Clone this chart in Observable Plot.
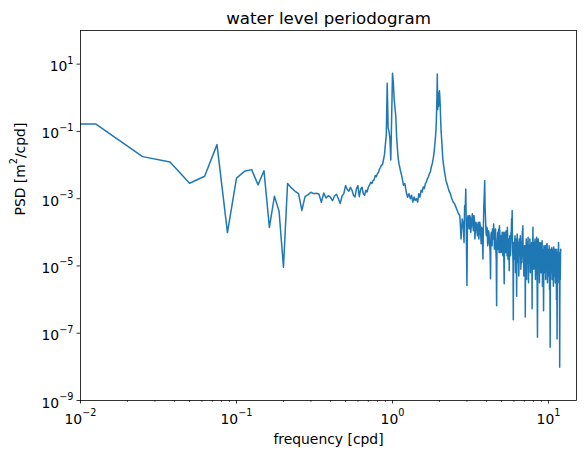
<!DOCTYPE html>
<html>
<head>
<meta charset="utf-8">
<script src="https://cdn.jsdelivr.net/npm/d3@7"></script>
<script src="https://cdn.jsdelivr.net/npm/@observablehq/plot@0.6"></script>
<style>
  html, body { margin: 0; padding: 0; background: white; }
</style>
</head>
<body>
<div id="chart"></div>
<script>
// ---- text ----
const titleText = "water level periodogram";
const xLabelText = "frequency [cpd]";
const yLabelText = "PSD [m^2/cpd]";

// ---- tick values ----
const xMajorTicks = [0.01, 0.1, 1, 10];
const xMinorTicks = [0.02,0.03,0.04,0.05,0.06,0.07,0.08,0.09,
                     0.2,0.3,0.4,0.5,0.6,0.7,0.8,0.9,
                     2,3,4,5,6,7,8,9];
const yMajorTicks = [1e-9, 1e-7, 1e-5, 1e-3, 1e-1, 1e1];

// ---- data: low frequencies (first row stands for the f = 0 bin, clipped off the log axis) ----
const freqLow = [
  0.005, 0.0125, 0.025, 0.0375, 0.05, 0.0625, 0.075, 0.0875, 0.1, 0.1125,
  0.125, 0.1375, 0.15, 0.1625, 0.175, 0.1875, 0.2, 0.2125, 0.225, 0.2375,
  0.25, 0.2625, 0.275, 0.2875, 0.3, 0.3125, 0.325, 0.3375, 0.35, 0.3625,
  0.375, 0.3875, 0.4, 0.4125, 0.425, 0.4375, 0.45, 0.4625, 0.475, 0.4875,
  0.5, 0.5125, 0.525, 0.5375, 0.55, 0.5625, 0.575, 0.5875, 0.6, 0.6125,
  0.625, 0.6375, 0.65, 0.6625, 0.675, 0.6875, 0.7, 0.7125, 0.725, 0.7375,
  0.75, 0.7625, 0.775, 0.7875, 0.8, 0.8125, 0.825, 0.8375, 0.85, 0.8625,
  0.875, 0.8875, 0.9, 0.9125, 0.925, 0.9375, 0.95, 0.9625, 0.975, 0.9875,
  1.0, 1.0125, 1.025, 1.0375, 1.05, 1.0625, 1.075, 1.0875
];
const psdLow = [
  0.167, 0.167, 0.0178, 0.0124, 0.00288, 0.00465, 0.0405, 9.8e-5, 0.0041, 0.0065,
  0.0073, 0.00257, 0.0068, 1.4e-4, 0.00118, 4.2e-4, 9.2e-6, 2.82e-3, 2.09e-3, 1.66e-3,
  1.41e-3, 4.47e-4, 1.15e-3, 1.32e-3, 1.55e-3, 1.41e-3, 1.45e-3, 1.38e-3, 7.76e-4, 1.48e-3,
  1.05e-3, 1.23e-3, 1.12e-3, 8.71e-4, 1.2e-3, 1.35e-3, 1e-3, 7.24e-4, 1.2e-3, 1.41e-3,
  2.45e-3, 1.91e-3, 1.66e-3, 2.19e-3, 1.78e-3, 1.26e-3, 1.12e-3, 2e-3, 2.45e-3, 1.15e-3,
  1.91e-3, 2.19e-3, 1.41e-3, 1.26e-3, 1.78e-3, 1.58e-3, 2.19e-3, 2.51e-3, 3.09e-3, 2.82e-3,
  3.47e-3, 3.63e-3, 4.9e-3, 4.47e-3, 5.5e-3, 6.03e-3, 7.59e-3, 8.51e-3, 1e-2, 1.02e-2,
  1.41e-2, 2e-2, 3.98e-2, 7.94e-2, 2.69, 0.126, 0.1, 6.31e-2, 1.41e-2, 0.251,
  5.37, 2.82, 0.891, 0.501, 0.282, 7.08e-2, 3.16e-2, 1.58e-2
];

// ---- data: between the diurnal and semidiurnal bands ----
const freqMid = [
  1.1, 1.125, 1.15, 1.175, 1.2, 1.225, 1.25, 1.275, 1.3, 1.325,
  1.35, 1.375, 1.4, 1.425, 1.45, 1.475, 1.5, 1.525, 1.55, 1.575,
  1.6, 1.625, 1.65, 1.675, 1.7, 1.725, 1.75, 1.775, 1.8, 1.825,
  1.85, 1.8625, 1.875, 1.8875, 1.9, 1.9125, 1.925, 1.9375, 1.95, 1.9625,
  1.975, 1.9875, 2.0, 2.0125, 2.025, 2.0375, 2.05, 2.075, 2.1, 2.125,
  2.15, 2.175, 2.2, 2.25, 2.3, 2.35, 2.4, 2.45, 2.5, 2.55,
  2.6, 2.65
];
const psdMid = [
  1.12e-2, 6.76e-3, 4.47e-3, 2.51e-3, 2.82e-3, 1.58e-3, 1.1e-3, 1.41e-3, 1e-3, 1.26e-3,
  7.94e-4, 1.12e-3, 8.91e-4, 1e-3, 7.94e-4, 1.41e-3, 1.12e-3, 1.78e-3, 1.58e-3, 2.24e-3,
  2e-3, 2.82e-3, 3.16e-3, 3.98e-3, 4.47e-3, 5.62e-3, 6.31e-3, 8.91e-3, 1.12e-2, 1.58e-2,
  2.51e-2, 3.55e-2, 5.01e-2, 7.08e-2, 0.112, 0.251, 0.794, 5.13, 0.447, 1.41,
  0.562, 1.12, 1.62, 1.0, 0.501, 0.2, 0.1, 4.27e-2, 1.58e-2, 1e-2,
  6.76e-3, 5.01e-3, 3.55e-3, 2.51e-3, 1.74e-3, 1.41e-3, 1e-3, 7.94e-4, 7.08e-4, 5.62e-4,
  4.47e-4, 3.55e-4
];

// ---- data: high frequencies ----
const freqHigh = [
  2.70, 2.75, 2.80, 2.85, 2.90, 2.95, 3.00, 3.05, 3.10, 3.15,
  3.20, 3.25, 3.30, 3.35, 3.40, 3.45, 3.50, 3.55, 3.60, 3.65,
  3.70, 3.75, 3.80, 3.85, 3.90, 3.95, 4.00, 4.05, 4.10, 4.15,
  4.20, 4.25, 4.30, 4.35, 4.40, 4.45, 4.50, 4.55, 4.60, 4.65,
  4.70, 4.75, 4.80, 4.85, 4.90, 4.95, 5.00, 5.05, 5.10, 5.15,
  5.20, 5.25, 5.30, 5.35, 5.40, 5.45, 5.50, 5.55, 5.60, 5.65,
  5.70, 5.75, 5.80, 5.85, 5.90, 5.95, 6.00, 6.05, 6.10, 6.15,
  6.20, 6.25, 6.30, 6.35, 6.40, 6.45, 6.50, 6.55, 6.60, 6.65,
  6.70, 6.75, 6.80, 6.85, 6.90, 6.95, 7.00, 7.05, 7.10, 7.15,
  7.20, 7.25, 7.30, 7.35, 7.40, 7.45, 7.50, 7.55, 7.60, 7.65,
  7.70, 7.75, 7.80, 7.85, 7.90, 7.95, 8.00, 8.05, 8.10, 8.15,
  8.20, 8.25, 8.30, 8.35, 8.40, 8.45, 8.50, 8.55, 8.60, 8.65,
  8.70, 8.75, 8.80, 8.85, 8.90, 8.95, 9.00, 9.05, 9.10, 9.15,
  9.20, 9.25, 9.30, 9.35, 9.40, 9.45, 9.50, 9.55, 9.60, 9.65,
  9.70, 9.75, 9.80, 9.85, 9.90, 9.95, 10.00, 10.05, 10.10, 10.15,
  10.20, 10.25, 10.30, 10.35, 10.40, 10.45, 10.50, 10.55, 10.60, 10.65,
  10.70, 10.75, 10.80, 10.85, 10.90, 10.95, 11.00, 11.05, 11.10, 11.15,
  11.20, 11.25, 11.30, 11.35, 11.40, 11.45, 11.50, 11.55, 11.60, 11.65,
  11.70, 11.75, 11.80, 11.85, 11.90, 11.95, 12.00
];
const psdHigh = [
  3.16e-4, 6.31e-5, 2.51e-4, 1.26e-4, 6.31e-4, 1.95e-3, 2.63e-6, 3.16e-4, 1.26e-4, 2.82e-4,
  1.58e-4, 3.55e-4, 1.12e-4, 2.51e-4, 1.26e-4, 1.78e-4, 7.94e-5, 2e-4, 1e-4, 1.58e-4,
  4.57e-5, 1.26e-4, 1.62e-5, 6.31e-4, 3.47e-3, 2.51e-4, 7.94e-5, 1.26e-4, 5.01e-5, 1e-4,
  3.98e-5, 4.17e-6, 1e-4, 3.98e-5, 1.26e-4, 1.78e-4, 3.16e-5, 1e-4, 2.88e-5, 6.61e-7,
  6.31e-5, 3.16e-5, 1.26e-4, 1.58e-4, 2.51e-5, 7.94e-5, 3.98e-5, 1e-4, 2e-5, 6.31e-5,
  2.95e-6, 1e-4, 2.51e-5, 1.12e-4, 3.16e-5, 1.41e-4, 1.58e-5, 6.31e-5, 7.24e-6, 7.94e-5,
  2e-5, 1e-4, 2.51e-4, 4.47e-4, 2.51e-5, 2.51e-7, 5.01e-5, 1.58e-5, 7.94e-5, 6.31e-6,
  6.31e-5, 1.26e-6, 8.91e-5, 1.26e-5, 5.01e-5, 5.01e-6, 6.31e-5, 2e-5, 7.94e-5, 7.94e-6,
  5.01e-5, 1.26e-5, 1.12e-4, 1.58e-4, 2.51e-5, 5.01e-6, 3.98e-5, 1.26e-5, 3.02e-7, 3.16e-5,
  6.31e-5, 3.98e-6, 5.01e-5, 1.26e-5, 7.08e-5, 3.16e-6, 3.98e-5, 1.58e-5, 6.31e-5, 6.31e-6,
  3.16e-5, 1e-5, 5.01e-5, 5.37e-7, 2.51e-5, 1.41e-4, 3.16e-5, 7.94e-6, 5.01e-5, 1.26e-5,
  6.31e-5, 3.98e-6, 3.98e-5, 1.58e-5, 7.08e-5, 5.01e-6, 7.59e-8, 3.16e-5, 6.31e-5, 1e-5,
  3.98e-5, 3.16e-6, 5.01e-5, 1.26e-5, 3.16e-5, 6.31e-6, 5.01e-5, 1.58e-5, 5.62e-5, 2.51e-6,
  3.16e-5, 1e-5, 4.68e-7, 3.98e-5, 6.31e-6, 2.51e-5, 1.26e-5, 3.98e-5, 3.98e-6, 3.16e-5,
  1e-5, 4.47e-5, 4.57e-5, 3.16e-6, 2.51e-5, 7.94e-6, 3.16e-5, 5.01e-6, 3.98e-5, 2e-6,
  2.51e-5, 3.8e-8, 3.16e-5, 6.31e-6, 2.51e-5, 1e-5, 3.55e-5, 3.98e-6, 2.51e-5, 7.94e-6,
  3.16e-5, 2.51e-6, 3.63e-5, 1e-5, 2e-5, 5.01e-6, 3.16e-5, 3.16e-6, 2.51e-5, 6.31e-6,
  3.16e-5, 1e-6, 2e-5, 6.76e-8, 2.51e-5, 5.01e-6, 3.16e-5, 7.94e-6, 5.01e-5, 3.16e-6,
  2.51e-5, 6.31e-6, 9.77e-9, 2e-5, 3.98e-6, 3.16e-5, 2.88e-5
];

// ---- data: extra high-frequency bins (between the ones above) ----
const freqHighB = [
  2.725, 2.775, 2.825, 2.875, 2.925, 2.975, 3.025, 3.075, 3.125, 3.175,
  3.225, 3.275, 3.325, 3.375, 3.425, 3.475, 3.525, 3.575, 3.625, 3.675,
  3.725, 3.775, 3.825, 3.875, 3.925, 3.975, 4.025, 4.075, 4.125, 4.175,
  4.225, 4.275, 4.325, 4.375, 4.425, 4.475, 4.525, 4.575, 4.625, 4.675,
  4.725, 4.775, 4.825, 4.875, 4.925, 4.975, 5.025, 5.075, 5.125, 5.175,
  5.225, 5.275, 5.325, 5.375, 5.425, 5.475, 5.525, 5.575, 5.625, 5.675,
  5.725, 5.775, 5.825, 5.875, 5.925, 5.975, 6.025, 6.075, 6.125, 6.175,
  6.225, 6.275, 6.325, 6.375, 6.425, 6.475, 6.525, 6.575, 6.625, 6.675,
  6.725, 6.775, 6.825, 6.875, 6.925, 6.975, 7.025, 7.075, 7.125, 7.175,
  7.225, 7.275, 7.325, 7.375, 7.425, 7.475, 7.525, 7.575, 7.625, 7.675,
  7.725, 7.775, 7.825, 7.875, 7.925, 7.975
];
const psdHighB = [
  1.58e-4, 1.26e-4, 2e-4, 5.01e-5, 5.01e-4, 7.94e-5, 2.51e-4, 1.78e-4, 3.16e-4, 1e-4,
  2.51e-4, 1.58e-4, 3.16e-4, 6.31e-5, 2e-4, 1.12e-4, 1.58e-4, 6.31e-5, 2e-4, 8.91e-5,
  1.41e-4, 5.01e-5, 1.26e-4, 1.26e-3, 5.01e-4, 1e-4, 1.41e-4, 3.98e-5, 1.12e-4, 6.31e-5,
  2.51e-5, 7.94e-5, 5.01e-5, 1.26e-4, 6.31e-5, 1e-4, 5.01e-5, 1.26e-4, 1.58e-5, 3.98e-5,
  1e-4, 5.01e-5, 2.51e-5, 1e-4, 5.01e-5, 2.51e-5, 6.31e-5, 3.16e-5, 1e-4, 1.58e-5,
  5.01e-5, 7.94e-5, 3.16e-5, 6.31e-5, 2e-5, 7.94e-5, 3.16e-5, 5.01e-5, 2.51e-5, 6.31e-5,
  3.16e-5, 1e-4, 1.26e-4, 5.01e-5, 1.26e-5, 3.98e-5, 2.51e-5, 5.01e-5, 2e-5, 3.98e-5,
  1.26e-5, 3.16e-5, 5.01e-5, 2e-5, 3.16e-5, 1.26e-5, 3.98e-5, 2.51e-5, 5.01e-5, 1.58e-5,
  2.51e-5, 3.98e-5, 6.31e-5, 3.16e-5, 1.58e-5, 3.16e-5, 2e-5, 3.98e-5, 1e-5, 2.51e-5,
  1.58e-5, 3.16e-5, 2e-5, 3.98e-5, 1.58e-5, 2.51e-5, 3.16e-5, 1.26e-5, 3.16e-5, 1.58e-5,
  2.51e-5, 3.98e-5, 1.26e-5, 2.51e-5, 5.01e-5, 2e-5
];

// ---- build table (ordered by frequency) ----
const freq = [...freqLow, ...freqMid, ...freqHigh, ...freqHighB];
const psd = [...psdLow, ...psdMid, ...psdHigh, ...psdHighB];
const rows = freq.map((f, i) => ({f, p: psd[i]}))
  .filter(d => d.p != null)
  .sort((a, b) => a.f - b.f);

const fmtPow = d => "10^" + String(Math.round(Math.log10(d))).replace("-", "\u2212");

const svg = Plot.plot({
  width: 586,
  height: 457,
  marginLeft: 80,
  marginRight: 10,
  marginTop: 30,
  marginBottom: 57,
  style: {fontFamily: "'DejaVu Sans', sans-serif", fontSize: "13.9px", background: "white", color: "black", overflow: "visible"},
  x: {type: "log", domain: [0.01, 15.12]},
  y: {type: "log", domain: [1e-9, 100]},
  marks: [
    Plot.line(rows, {x: "f", y: "p", stroke: "#1f77b4", strokeWidth: 1.5, clip: true, strokeLinejoin: "round", strokeLinecap: "square"}),
    Plot.frame({stroke: "black", strokeWidth: 0.8}),
    Plot.axisX({ticks: xMinorTicks, tickSize: 2, tickFormat: () => "", strokeWidth: 0.6, label: null}),
    Plot.axisX({ticks: xMajorTicks, tickSize: 3.5, tickPadding: 9.9, tickFormat: fmtPow, strokeWidth: 0.8, label: null}),
    Plot.axisY({ticks: yMajorTicks, tickSize: 3.5, tickPadding: 3.5, tickFormat: fmtPow, strokeWidth: 0.8, label: null}),
    Plot.text([titleText], {text: d => d, frameAnchor: "top", lineAnchor: "middle", dy: -12.3, fontSize: 16.67}),
    Plot.text([xLabelText], {text: d => d, frameAnchor: "bottom", lineAnchor: "middle", dy: 38.9}),
    Plot.text([yLabelText], {text: d => d, frameAnchor: "left", lineAnchor: "middle", dx: -60.1, rotate: -90})
  ]
});

// turn "a^b" into real superscripts (mathtext style)
const NS = "http://www.w3.org/2000/svg";
const yTickTexts = new Set(svg.querySelectorAll('[aria-label="y-axis tick label"] text'));
svg.querySelectorAll("text").forEach(t => {
  if (t.querySelector("tspan")) return;
  const s = t.textContent;
  const m = s.match(/^(.*?)\^([\u2212\d]+)(.*)$/);
  if (!m) return;
  t.textContent = "";
  const a = document.createElementNS(NS, "tspan");
  a.textContent = m[1];
  if (yTickTexts.has(t)) a.setAttribute("dy", "2.6");
  const b = document.createElementNS(NS, "tspan");
  b.setAttribute("dy", "-7.6");
  b.setAttribute("font-size", "9.7");
  b.textContent = m[2];
  t.append(a, b);
  if (m[3]) {
    const c = document.createElementNS(NS, "tspan");
    c.setAttribute("dy", "7.6");
    c.textContent = m[3];
    t.append(c);
  }
});

document.getElementById("chart").append(svg);
</script>
</body>
</html>
